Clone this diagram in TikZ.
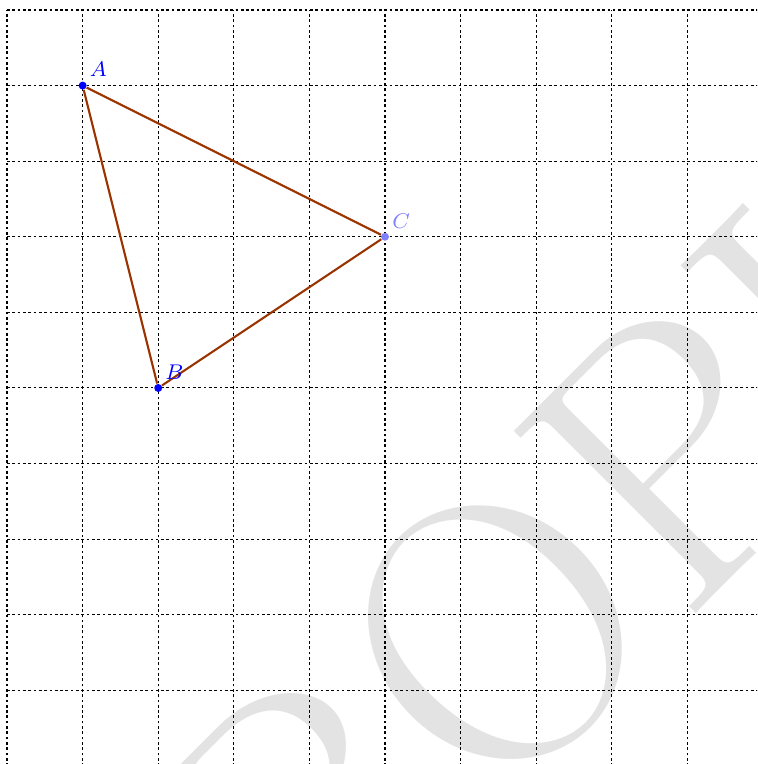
\documentclass[tikz,border=0pt]{standalone}
\usepackage{tikz}
\usetikzlibrary{positioning}
\definecolor{sidebrown}{rgb}{0.6,0.2,0}
\definecolor{palept}{rgb}{0.5,0.5,1}

\begin{document}
\begin{tikzpicture}[dot/.style={circle, fill=blue, inner sep=0pt, minimum size=3pt},
  side/.style={draw=sidebrown, line width=0.8pt},
  ptlabel/.style={text=blue, font=\footnotesize}]
\useasboundingbox (-0.093,0.026) rectangle (9.921,10.132);
\clip (-0.093,0.026) rectangle (9.921,10.132);
% watermark, set from the first P
\node (stamp) [rotate=45, anchor=base west, inner sep=0pt, text=black!11, font=\fontsize{142}{142}\selectfont] at (8.93,1.82) {\llap{PRO}PIEDAD};
\draw [dash pattern=on 1pt off 1pt, step=1cm] (0,0) grid (10,10);
\node (A) [dot] at (1,9) {};
\node (B) [dot] at (2,5) {};
\node (C) [dot, fill=palept] at (5,7) {};
\draw [side] (A) -- (B);
\draw [side] (B) -- (C);
\draw [side] (C) -- (A);
\node (labA) [ptlabel, above right=-1.5pt and -2pt of A] {$A$};
\node (labB) [ptlabel, above right=-1.5pt and -2pt of B] {$B$};
\node (labC) [ptlabel, text=palept, above right=-1.5pt and -2pt of C] {$C$};
\end{tikzpicture}
\end{document}
